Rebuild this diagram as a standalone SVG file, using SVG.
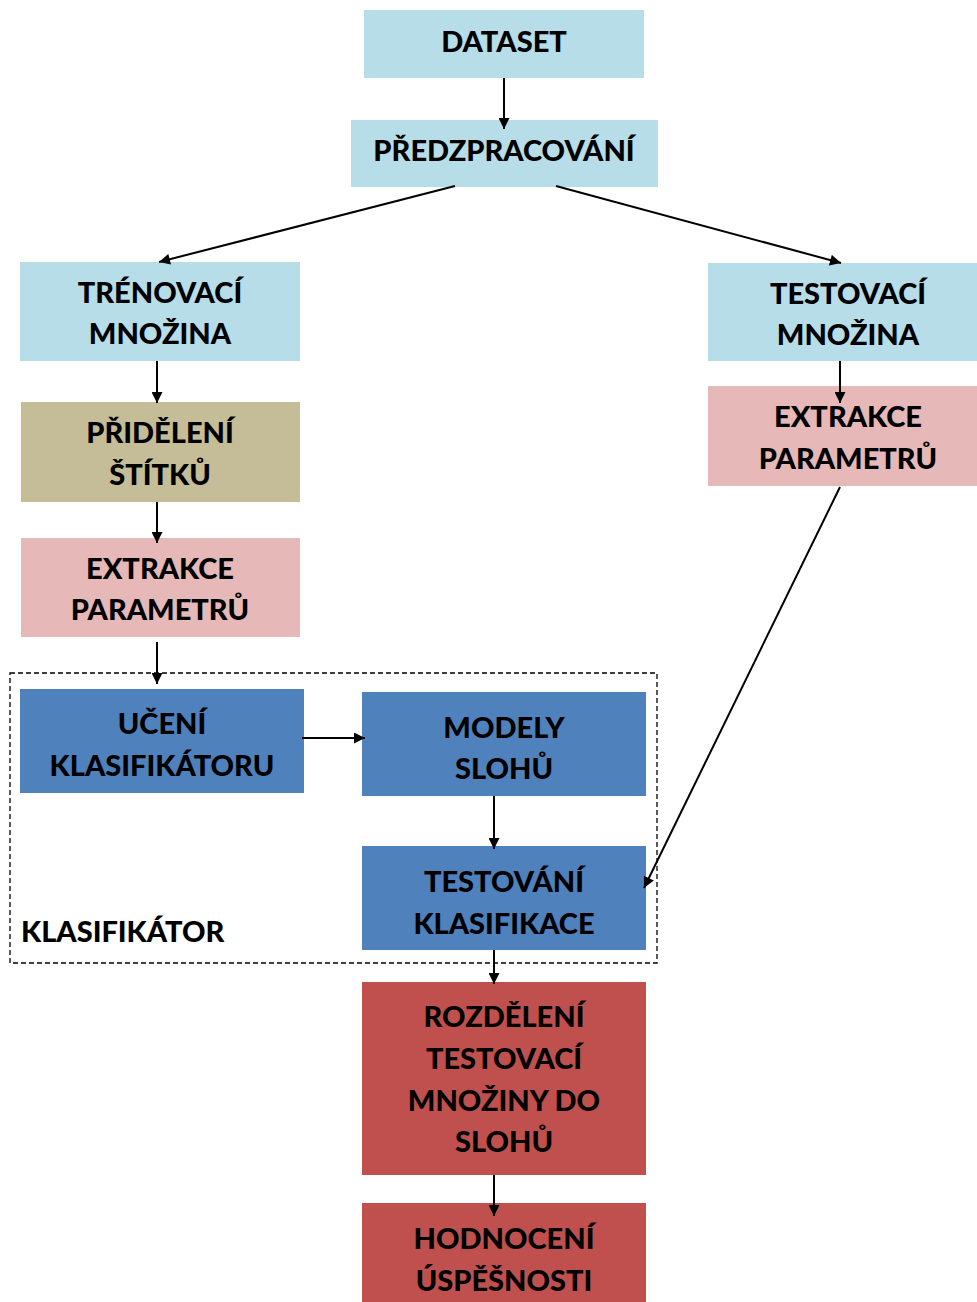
<svg xmlns="http://www.w3.org/2000/svg" width="977" height="1302" viewBox="0 0 977 1302">
<defs>
<style>
.t{font-family:Lato,"Open Sans","Liberation Sans",sans-serif;font-weight:900;font-size:29px;fill:#000;text-anchor:middle}
.l{text-anchor:start}
.c{stroke:#000;stroke-width:2;fill:none;marker-end:url(#ah)}
.lb{fill:#b7dde8}.ol{fill:#c4bd97}.pk{fill:#e6b9b8}.bl{fill:#4f81bd}.rd{fill:#c0504d}
</style>
<marker id="ah" viewBox="0 0 10 10" refX="10" refY="5" markerWidth="6" markerHeight="5.5" orient="auto" markerUnits="strokeWidth">
<path d="M0,0 L10,5 L0,10 z" fill="#000"/>
</marker>
</defs>
<rect width="977" height="1302" fill="#fff"/>
<g id="klasifikator">
<rect x="10" y="673" width="647" height="290" fill="none" stroke="#000" stroke-width="1.3" stroke-dasharray="5,3"/>
<text class="t l" x="21" y="942">KLASIFIKÁTOR</text>
</g>
<g id="dataset"><rect class="lb" x="364" y="10" width="280" height="68"/><text class="t" x="504" y="52">DATASET</text></g>
<g id="predzpracovani"><rect class="lb" x="351" y="120" width="307" height="67"/><text class="t" x="504" y="161">PŘEDZPRACOVÁNÍ</text></g>
<g id="trenovaci"><rect class="lb" x="20" y="262" width="280" height="99"/><text class="t" x="160" y="303">TRÉNOVACÍ</text><text class="t" x="160" y="344">MNOŽINA</text></g>
<g id="testovaci"><rect class="lb" x="708" y="263" width="269" height="98"/><text class="t" x="848" y="304">TESTOVACÍ</text><text class="t" x="848" y="345">MNOŽINA</text></g>
<g id="prideleni"><rect class="ol" x="21" y="402" width="279" height="100"/><text class="t" x="160" y="443">PŘIDĚLENÍ</text><text class="t" x="160" y="485">ŠTÍTKŮ</text></g>
<g id="extrakce1"><rect class="pk" x="21" y="538" width="279" height="99"/><text class="t" x="160" y="579">EXTRAKCE</text><text class="t" x="160" y="620">PARAMETRŮ</text></g>
<g id="extrakce2"><rect class="pk" x="708" y="386" width="269" height="100"/><text class="t" x="848" y="427">EXTRAKCE</text><text class="t" x="848" y="469">PARAMETRŮ</text></g>
<g id="uceni"><rect class="bl" x="20" y="689" width="284" height="104"/><text class="t" x="162" y="734">UČENÍ</text><text class="t" x="162" y="776">KLASIFIKÁTORU</text></g>
<g id="modely"><rect class="bl" x="362" y="692" width="284" height="104"/><text class="t" x="504" y="738">MODELY</text><text class="t" x="504" y="779">SLOHŮ</text></g>
<g id="testovani"><rect class="bl" x="362" y="846" width="284" height="104"/><text class="t" x="504" y="892">TESTOVÁNÍ</text><text class="t" x="504" y="934">KLASIFIKACE</text></g>
<g id="rozdeleni"><rect class="rd" x="362" y="982" width="284" height="193"/><text class="t" x="504" y="1027">ROZDĚLENÍ</text><text class="t" x="504" y="1069">TESTOVACÍ</text><text class="t" x="504" y="1111">MNOŽINY DO</text><text class="t" x="504" y="1152">SLOHŮ</text></g>
<g id="hodnoceni"><rect class="rd" x="362" y="1203" width="284" height="99"/><text class="t" x="504" y="1249">HODNOCENÍ</text><text class="t" x="504" y="1291">ÚSPĚŠNOSTI</text></g>
<g id="connectors">
<line class="c" x1="504" y1="78" x2="504" y2="129"/>
<line class="c" x1="455" y1="186" x2="159" y2="262"/>
<line class="c" x1="556" y1="186" x2="841" y2="263"/>
<line class="c" x1="157" y1="361" x2="157" y2="403"/>
<line class="c" x1="157" y1="502" x2="157" y2="543"/>
<line class="c" x1="157" y1="642" x2="157" y2="684"/>
<line class="c" x1="302" y1="738" x2="365" y2="738"/>
<line class="c" x1="494" y1="796" x2="494" y2="849"/>
<line class="c" x1="840" y1="361" x2="840" y2="403"/>
<line class="c" x1="840" y1="487" x2="644" y2="888"/>
<line class="c" x1="494" y1="950" x2="494" y2="984"/>
<line class="c" x1="494" y1="1175" x2="494" y2="1216"/>
</g>
</svg>
